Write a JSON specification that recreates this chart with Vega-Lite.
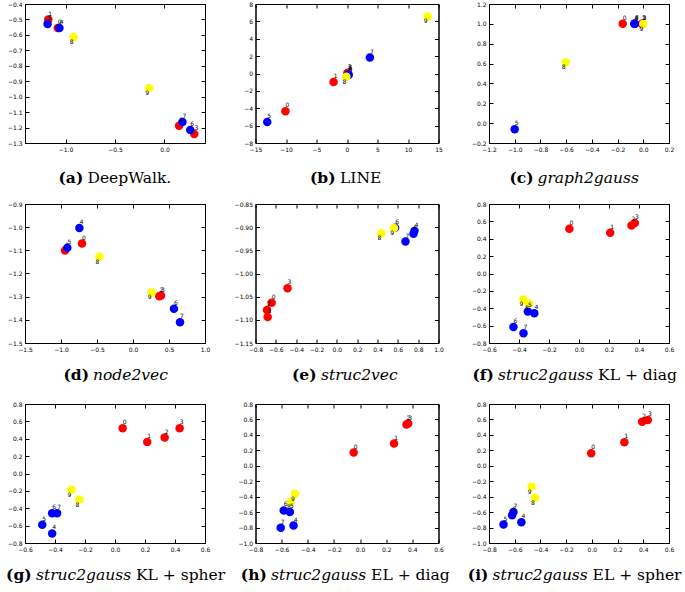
{
"$schema":"https://vega.github.io/schema/vega-lite/v6.json",
"background":"white",
"padding":{"left":5,"top":0,"right":0,"bottom":0},
"columns":3,
"bounds":"flush",
"spacing":{"row":61,"column":50.5},
"datasets":{"pts":[
{"p":"a","id":"0","c":"r","x":-1.079,"y":-0.555},{"p":"a","id":"1","c":"r","x":-1.175,"y":-0.501},{"p":"a","id":"2","c":"r","x":0.148,"y":-1.188},{"p":"a","id":"3","c":"r","x":0.302,"y":-1.242},{"p":"a","id":"4","c":"b","x":-1.062,"y":-0.555},{"p":"a","id":"5","c":"b","x":-1.182,"y":-0.53},{"p":"a","id":"6","c":"b","x":0.261,"y":-1.216},{"p":"a","id":"7","c":"b","x":0.182,"y":-1.164},{"p":"a","id":"8","c":"y","x":-0.918,"y":-0.614},{"p":"a","id":"9","c":"y","x":-0.155,"y":-0.944},
{"p":"b","id":"0","c":"r","x":-10.09,"y":-4.34},{"p":"b","id":"1","c":"r","x":-2.2,"y":-0.98},{"p":"b","id":"2","c":"r","x":0.17,"y":0.1},{"p":"b","id":"3","c":"r","x":0.05,"y":0.02},{"p":"b","id":"4","c":"b","x":0.28,"y":-0.17},{"p":"b","id":"5","c":"b","x":-13.07,"y":-5.57},{"p":"b","id":"6","c":"b","x":0.2,"y":-0.1},{"p":"b","id":"7","c":"b","x":3.75,"y":1.83},{"p":"b","id":"8","c":"y","x":-0.11,"y":-0.37},{"p":"b","id":"9","c":"y","x":13.24,"y":6.57},
{"p":"c","id":"0","c":"r","x":-0.16,"y":1.0},{"p":"c","id":"1","c":"r","x":-0.01,"y":1.0},{"p":"c","id":"2","c":"r","x":-0.008,"y":0.998},{"p":"c","id":"3","c":"r","x":-0.005,"y":1.0},{"p":"c","id":"4","c":"b","x":-0.07,"y":1.0},{"p":"c","id":"5","c":"b","x":-1.0,"y":-0.062},{"p":"c","id":"6","c":"b","x":-0.068,"y":1.0},{"p":"c","id":"7","c":"b","x":-0.065,"y":1.002},{"p":"c","id":"8","c":"y","x":-0.603,"y":0.613},{"p":"c","id":"9","c":"y","x":0.0,"y":1.0},
{"p":"d","id":"0","c":"r","x":-0.708,"y":-1.071},{"p":"d","id":"1","c":"r","x":-0.944,"y":-1.101},{"p":"d","id":"2","c":"r","x":0.366,"y":-1.298},{"p":"d","id":"3","c":"r","x":0.389,"y":-1.295},{"p":"d","id":"4","c":"b","x":-0.745,"y":-1.004},{"p":"d","id":"5","c":"b","x":-0.912,"y":-1.089},{"p":"d","id":"6","c":"b","x":0.569,"y":-1.352},{"p":"d","id":"7","c":"b","x":0.653,"y":-1.41},{"p":"d","id":"8","c":"y","x":-0.468,"y":-1.128},{"p":"d","id":"9","c":"y","x":0.259,"y":-1.282},
{"p":"e","id":"0","c":"r","x":-0.641,"y":-1.063},{"p":"e","id":"1","c":"r","x":-0.68,"y":-1.094},{"p":"e","id":"2","c":"r","x":-0.687,"y":-1.079},{"p":"e","id":"3","c":"r","x":-0.485,"y":-1.032},{"p":"e","id":"4","c":"b","x":0.764,"y":-0.908},{"p":"e","id":"5","c":"b","x":0.754,"y":-0.914},{"p":"e","id":"6","c":"b","x":0.573,"y":-0.901},{"p":"e","id":"7","c":"b","x":0.675,"y":-0.931},{"p":"e","id":"8","c":"y","x":0.438,"y":-0.913},{"p":"e","id":"9","c":"y","x":0.563,"y":-0.902},
{"p":"f","id":"0","c":"r","x":-0.064,"y":0.515},{"p":"f","id":"1","c":"r","x":0.208,"y":0.468},{"p":"f","id":"2","c":"r","x":0.35,"y":0.553},{"p":"f","id":"3","c":"r","x":0.372,"y":0.58},{"p":"f","id":"4","c":"b","x":-0.298,"y":-0.457},{"p":"f","id":"5","c":"b","x":-0.341,"y":-0.437},{"p":"f","id":"6","c":"b","x":-0.437,"y":-0.617},{"p":"f","id":"7","c":"b","x":-0.37,"y":-0.688},{"p":"f","id":"8","c":"y","x":-0.334,"y":-0.345},{"p":"f","id":"9","c":"y","x":-0.37,"y":-0.299},
{"p":"g","id":"0","c":"r","x":0.051,"y":0.522},{"p":"g","id":"1","c":"r","x":0.215,"y":0.364},{"p":"g","id":"2","c":"r","x":0.331,"y":0.414},{"p":"g","id":"3","c":"r","x":0.431,"y":0.522},{"p":"g","id":"4","c":"b","x":-0.419,"y":-0.69},{"p":"g","id":"5","c":"b","x":-0.485,"y":-0.589},{"p":"g","id":"6","c":"b","x":-0.419,"y":-0.458},{"p":"g","id":"7","c":"b","x":-0.386,"y":-0.458},{"p":"g","id":"8","c":"y","x":-0.238,"y":-0.3},{"p":"g","id":"9","c":"y","x":-0.291,"y":-0.187},
{"p":"h","id":"0","c":"r","x":-0.049,"y":0.171},{"p":"h","id":"1","c":"r","x":0.26,"y":0.288},{"p":"h","id":"2","c":"r","x":0.355,"y":0.535},{"p":"h","id":"3","c":"r","x":0.368,"y":0.547},{"p":"h","id":"4","c":"b","x":-0.509,"y":-0.774},{"p":"h","id":"5","c":"b","x":-0.537,"y":-0.6},{"p":"h","id":"6","c":"b","x":-0.584,"y":-0.579},{"p":"h","id":"7","c":"b","x":-0.607,"y":-0.804},{"p":"h","id":"8","c":"y","x":-0.53,"y":-0.47},{"p":"h","id":"9","c":"y","x":-0.499,"y":-0.362},
{"p":"i","id":"0","c":"r","x":-0.005,"y":0.163},{"p":"i","id":"1","c":"r","x":0.253,"y":0.306},{"p":"i","id":"2","c":"r","x":0.391,"y":0.57},{"p":"i","id":"3","c":"r","x":0.435,"y":0.592},{"p":"i","id":"4","c":"b","x":-0.548,"y":-0.731},{"p":"i","id":"5","c":"b","x":-0.687,"y":-0.761},{"p":"i","id":"6","c":"b","x":-0.62,"y":-0.64},{"p":"i","id":"7","c":"b","x":-0.61,"y":-0.6},{"p":"i","id":"8","c":"y","x":-0.443,"y":-0.414},{"p":"i","id":"9","c":"y","x":-0.469,"y":-0.271}
]},
"concat":[
{"width":180,"height":139,"data":{"name":"pts"},"transform":[{"filter":"datum.p=='a'"}],
 "layer":[
  {"mark":{"type":"circle","size":72,"opacity":1},"encoding":{
   "x":{"field":"x","type":"quantitative","scale":{"domain":[-1.41,0.41],"nice":false,"zero":false},"axis":{"orient":"bottom","values":[-1,-0.5,0],"format":".1f","title":"(a)","titleFontWeight":"bold","titleX":33,"titleY":39}},
   "y":{"field":"y","type":"quantitative","scale":{"domain":[-1.3,-0.4],"nice":false,"zero":false},"axis":{"orient":"left","values":[-1.3,-1.2,-1.1,-1.0,-0.9,-0.8,-0.7,-0.6,-0.5,-0.4],"format":".1f","title":null}},
   "color":{"field":"c","type":"nominal","scale":{"domain":["r","b","y"],"range":["#ff0000","#0000ff","#ffff00"]},"legend":null}}},
  {"transform":[{"filter":"datum.c!='y'"}],"mark":{"type":"text","dx":2,"dy":-6,"fill":"#000000"},"encoding":{
   "x":{"field":"x","type":"quantitative","axis":{"orient":"top","values":[-1,-0.5,0],"labels":false,"title":null}},
   "y":{"field":"y","type":"quantitative","axis":{"orient":"right","values":[-1.3,-1.2,-1.1,-1.0,-0.9,-0.8,-0.7,-0.6,-0.5,-0.4],"labels":false,"title":"DeepWalk.","titleAngle":0,"titleX":-118,"titleY":178}},
   "text":{"field":"id"}}},
  {"transform":[{"filter":"datum.c=='y'"}],"mark":{"type":"text","dx":-2,"dy":5,"fill":"#000000"},"encoding":{
   "x":{"field":"x","type":"quantitative","axis":null},"y":{"field":"y","type":"quantitative","axis":null},"text":{"field":"id"}}}
 ],
 "resolve":{"axis":{"x":"independent","y":"independent"}}},
{"width":183,"height":139,"data":{"name":"pts"},"transform":[{"filter":"datum.p=='b'"}],
 "layer":[
  {"mark":{"type":"circle","size":72,"opacity":1},"encoding":{
   "x":{"field":"x","type":"quantitative","scale":{"domain":[-15,15],"nice":false,"zero":false},"axis":{"orient":"bottom","values":[-15,-10,-5,0,5,10,15],"format":"d","title":"(b)","titleFontWeight":"bold","titleX":54,"titleY":39}},
   "y":{"field":"y","type":"quantitative","scale":{"domain":[-8,8],"nice":false,"zero":false},"axis":{"orient":"left","values":[-8,-6,-4,-2,0,2,4,6,8],"format":"d","title":null}},
   "color":{"field":"c","type":"nominal","scale":{"domain":["r","b","y"],"range":["#ff0000","#0000ff","#ffff00"]},"legend":null}}},
  {"transform":[{"filter":"datum.c!='y'"}],"mark":{"type":"text","dx":2,"dy":-6,"fill":"#000000"},"encoding":{
   "x":{"field":"x","type":"quantitative","axis":{"orient":"top","values":[-15,-10,-5,0,5,10,15],"labels":false,"title":null}},
   "y":{"field":"y","type":"quantitative","axis":{"orient":"right","values":[-8,-6,-4,-2,0,2,4,6,8],"labels":false,"title":"LINE","titleAngle":0,"titleX":-99,"titleY":178}},
   "text":{"field":"id"}}},
  {"transform":[{"filter":"datum.c=='y'"}],"mark":{"type":"text","dx":-2,"dy":5,"fill":"#000000"},"encoding":{
   "x":{"field":"x","type":"quantitative","axis":null},"y":{"field":"y","type":"quantitative","axis":null},"text":{"field":"id"}}}
 ],
 "resolve":{"axis":{"x":"independent","y":"independent"}}},
{"width":180,"height":139,"data":{"name":"pts"},"transform":[{"filter":"datum.p=='c'"}],
 "layer":[
  {"mark":{"type":"circle","size":72,"opacity":1},"encoding":{
   "x":{"field":"x","type":"quantitative","scale":{"domain":[-1.2,0.2],"nice":false,"zero":false},"axis":{"orient":"bottom","values":[-1.2,-1.0,-0.8,-0.6,-0.4,-0.2,0,0.2],"format":".1f","title":"(c)","titleFontWeight":"bold","titleX":20,"titleY":39}},
   "y":{"field":"y","type":"quantitative","scale":{"domain":[-0.2,1.2],"nice":false,"zero":false},"axis":{"orient":"left","values":[-0.2,0,0.2,0.4,0.6,0.8,1.0,1.2],"format":".1f","title":null}},
   "color":{"field":"c","type":"nominal","scale":{"domain":["r","b","y"],"range":["#ff0000","#0000ff","#ffff00"]},"legend":null}}},
  {"transform":[{"filter":"datum.c!='y'"}],"mark":{"type":"text","dx":2,"dy":-6,"fill":"#000000"},"encoding":{
   "x":{"field":"x","type":"quantitative","axis":{"orient":"top","values":[-1.2,-1.0,-0.8,-0.6,-0.4,-0.2,0,0.2],"labels":false,"title":"graph2gauss","titleFontStyle":"italic","titleX":48,"titleY":178}},
   "y":{"field":"y","type":"quantitative","axis":{"orient":"right","values":[-0.2,0,0.2,0.4,0.6,0.8,1.0,1.2],"labels":false,"title":null}},
   "text":{"field":"id"}}},
  {"transform":[{"filter":"datum.c=='y'"}],"mark":{"type":"text","dx":-2,"dy":5,"fill":"#000000"},"encoding":{
   "x":{"field":"x","type":"quantitative","axis":null},"y":{"field":"y","type":"quantitative","axis":null},"text":{"field":"id"}}}
 ],
 "resolve":{"axis":{"x":"independent","y":"independent"}}},
{"width":180,"height":139,"data":{"name":"pts"},"transform":[{"filter":"datum.p=='d'"}],
 "layer":[
  {"mark":{"type":"circle","size":72,"opacity":1},"encoding":{
   "x":{"field":"x","type":"quantitative","scale":{"domain":[-1.5,1.0],"nice":false,"zero":false},"axis":{"orient":"bottom","values":[-1.5,-1.0,-0.5,0,0.5,1.0],"format":".1f","title":"(d)","titleFontWeight":"bold","titleX":38,"titleY":36}},
   "y":{"field":"y","type":"quantitative","scale":{"domain":[-1.5,-0.9],"nice":false,"zero":false},"axis":{"orient":"left","values":[-1.5,-1.4,-1.3,-1.2,-1.1,-1.0,-0.9],"format":".1f","title":null}},
   "color":{"field":"c","type":"nominal","scale":{"domain":["r","b","y"],"range":["#ff0000","#0000ff","#ffff00"]},"legend":null}}},
  {"transform":[{"filter":"datum.c!='y'"}],"mark":{"type":"text","dx":2,"dy":-6,"fill":"#000000"},"encoding":{
   "x":{"field":"x","type":"quantitative","axis":{"orient":"top","values":[-1.5,-1.0,-0.5,0,0.5,1.0],"labels":false,"title":"node2vec","titleFontStyle":"italic","titleX":67.5,"titleY":175}},
   "y":{"field":"y","type":"quantitative","axis":{"orient":"right","values":[-1.5,-1.4,-1.3,-1.2,-1.1,-1.0,-0.9],"labels":false,"title":null}},
   "text":{"field":"id"}}},
  {"transform":[{"filter":"datum.c=='y'"}],"mark":{"type":"text","dx":-2,"dy":5,"fill":"#000000"},"encoding":{
   "x":{"field":"x","type":"quantitative","axis":null},"y":{"field":"y","type":"quantitative","axis":null},"text":{"field":"id"}}}
 ],
 "resolve":{"axis":{"x":"independent","y":"independent"}}},
{"width":183,"height":139,"data":{"name":"pts"},"transform":[{"filter":"datum.p=='e'"}],
 "layer":[
  {"mark":{"type":"circle","size":72,"opacity":1},"encoding":{
   "x":{"field":"x","type":"quantitative","scale":{"domain":[-0.8,1.0],"nice":false,"zero":false},"axis":{"orient":"bottom","values":[-0.8,-0.6,-0.4,-0.2,0,0.2,0.4,0.6,0.8,1.0],"format":".1f","title":"(e)","titleFontWeight":"bold","titleX":36,"titleY":36}},
   "y":{"field":"y","type":"quantitative","scale":{"domain":[-1.15,-0.85],"nice":false,"zero":false},"axis":{"orient":"left","values":[-1.15,-1.1,-1.05,-1.0,-0.95,-0.9,-0.85],"format":".2f","title":null}},
   "color":{"field":"c","type":"nominal","scale":{"domain":["r","b","y"],"range":["#ff0000","#0000ff","#ffff00"]},"legend":null}}},
  {"transform":[{"filter":"datum.c!='y'"}],"mark":{"type":"text","dx":2,"dy":-6,"fill":"#000000"},"encoding":{
   "x":{"field":"x","type":"quantitative","axis":{"orient":"top","values":[-0.8,-0.6,-0.4,-0.2,0,0.2,0.4,0.6,0.8,1.0],"labels":false,"title":"struc2vec","titleFontStyle":"italic","titleX":65,"titleY":175}},
   "y":{"field":"y","type":"quantitative","axis":{"orient":"right","values":[-1.15,-1.1,-1.05,-1.0,-0.95,-0.9,-0.85],"labels":false,"title":null}},
   "text":{"field":"id"}}},
  {"transform":[{"filter":"datum.c=='y'"}],"mark":{"type":"text","dx":-2,"dy":5,"fill":"#000000"},"encoding":{
   "x":{"field":"x","type":"quantitative","axis":null},"y":{"field":"y","type":"quantitative","axis":null},"text":{"field":"id"}}}
 ],
 "resolve":{"axis":{"x":"independent","y":"independent"}}},
{"width":180,"height":139,"data":{"name":"pts"},"transform":[{"filter":"datum.p=='f'"}],
 "layer":[
  {"mark":{"type":"circle","size":72,"opacity":1},"encoding":{
   "x":{"field":"x","type":"quantitative","scale":{"domain":[-0.6,0.6],"nice":false,"zero":false},"axis":{"orient":"bottom","values":[-0.6,-0.4,-0.2,0,0.2,0.4,0.6],"format":".1f","title":"(f)","titleFontWeight":"bold","titleX":-17,"titleY":36}},
   "y":{"field":"y","type":"quantitative","scale":{"domain":[-0.8,0.8],"nice":false,"zero":false},"axis":{"orient":"left","values":[-0.8,-0.6,-0.4,-0.2,0,0.2,0.4,0.6,0.8],"format":".1f","title":null}},
   "color":{"field":"c","type":"nominal","scale":{"domain":["r","b","y"],"range":["#ff0000","#0000ff","#ffff00"]},"legend":null}}},
  {"transform":[{"filter":"datum.c!='y'"}],"mark":{"type":"text","dx":2,"dy":-6,"fill":"#000000"},"encoding":{
   "x":{"field":"x","type":"quantitative","axis":{"orient":"top","values":[-0.6,-0.4,-0.2,0,0.2,0.4,0.6],"labels":false,"title":"struc2gauss","titleFontStyle":"italic","titleX":8.6,"titleY":175}},
   "y":{"field":"y","type":"quantitative","axis":{"orient":"right","values":[-0.8,-0.6,-0.4,-0.2,0,0.2,0.4,0.6,0.8],"labels":false,"title":"KL + diag","titleAngle":0,"titleX":-71.4,"titleY":175}},
   "text":{"field":"id"}}},
  {"transform":[{"filter":"datum.c=='y'"}],"mark":{"type":"text","dx":-2,"dy":5,"fill":"#000000"},"encoding":{
   "x":{"field":"x","type":"quantitative","axis":null},"y":{"field":"y","type":"quantitative","axis":null},"text":{"field":"id"}}}
 ],
 "resolve":{"axis":{"x":"independent","y":"independent"}}},
{"width":180,"height":139,"data":{"name":"pts"},"transform":[{"filter":"datum.p=='g'"}],
 "layer":[
  {"mark":{"type":"circle","size":72,"opacity":1},"encoding":{
   "x":{"field":"x","type":"quantitative","scale":{"domain":[-0.6,0.6],"nice":false,"zero":false},"axis":{"orient":"bottom","values":[-0.6,-0.4,-0.2,0,0.2,0.4,0.6],"format":".1f","title":"(g)","titleFontWeight":"bold","titleX":-19.4,"titleY":36}},
   "y":{"field":"y","type":"quantitative","scale":{"domain":[-0.8,0.8],"nice":false,"zero":false},"axis":{"orient":"left","values":[-0.8,-0.6,-0.4,-0.2,0,0.2,0.4,0.6,0.8],"format":".1f","title":null}},
   "color":{"field":"c","type":"nominal","scale":{"domain":["r","b","y"],"range":["#ff0000","#0000ff","#ffff00"]},"legend":null}}},
  {"transform":[{"filter":"datum.c!='y'"}],"mark":{"type":"text","dx":2,"dy":-6,"fill":"#000000"},"encoding":{
   "x":{"field":"x","type":"quantitative","axis":{"orient":"top","values":[-0.6,-0.4,-0.2,0,0.2,0.4,0.6],"labels":false,"title":"struc2gauss","titleFontStyle":"italic","titleX":10.5,"titleY":175}},
   "y":{"field":"y","type":"quantitative","axis":{"orient":"right","values":[-0.8,-0.6,-0.4,-0.2,0,0.2,0.4,0.6,0.8],"labels":false,"title":"KL + spher","titleAngle":0,"titleX":-69.5,"titleY":175}},
   "text":{"field":"id"}}},
  {"transform":[{"filter":"datum.c=='y'"}],"mark":{"type":"text","dx":-2,"dy":5,"fill":"#000000"},"encoding":{
   "x":{"field":"x","type":"quantitative","axis":null},"y":{"field":"y","type":"quantitative","axis":null},"text":{"field":"id"}}}
 ],
 "resolve":{"axis":{"x":"independent","y":"independent"}}},
{"width":183,"height":139,"data":{"name":"pts"},"transform":[{"filter":"datum.p=='h'"}],
 "layer":[
  {"mark":{"type":"circle","size":72,"opacity":1},"encoding":{
   "x":{"field":"x","type":"quantitative","scale":{"domain":[-0.8,0.6],"nice":false,"zero":false},"axis":{"orient":"bottom","values":[-0.8,-0.6,-0.4,-0.2,0,0.2,0.4,0.6],"format":".1f","title":"(h)","titleFontWeight":"bold","titleX":-15.2,"titleY":36}},
   "y":{"field":"y","type":"quantitative","scale":{"domain":[-1.0,0.8],"nice":false,"zero":false},"axis":{"orient":"left","values":[-1.0,-0.8,-0.6,-0.4,-0.2,0,0.2,0.4,0.6,0.8],"format":".1f","title":null}},
   "color":{"field":"c","type":"nominal","scale":{"domain":["r","b","y"],"range":["#ff0000","#0000ff","#ffff00"]},"legend":null}}},
  {"transform":[{"filter":"datum.c!='y'"}],"mark":{"type":"text","dx":2,"dy":-6,"fill":"#000000"},"encoding":{
   "x":{"field":"x","type":"quantitative","axis":{"orient":"top","values":[-0.8,-0.6,-0.4,-0.2,0,0.2,0.4,0.6],"labels":false,"title":"struc2gauss","titleFontStyle":"italic","titleX":15.1,"titleY":175}},
   "y":{"field":"y","type":"quantitative","axis":{"orient":"right","values":[-1.0,-0.8,-0.6,-0.4,-0.2,0,0.2,0.4,0.6,0.8],"labels":false,"title":"EL + diag","titleAngle":0,"titleX":-67.9,"titleY":175}},
   "text":{"field":"id"}}},
  {"transform":[{"filter":"datum.c=='y'"}],"mark":{"type":"text","dx":-2,"dy":5,"fill":"#000000"},"encoding":{
   "x":{"field":"x","type":"quantitative","axis":null},"y":{"field":"y","type":"quantitative","axis":null},"text":{"field":"id"}}}
 ],
 "resolve":{"axis":{"x":"independent","y":"independent"}}},
{"width":180,"height":139,"data":{"name":"pts"},"transform":[{"filter":"datum.p=='i'"}],
 "layer":[
  {"mark":{"type":"circle","size":72,"opacity":1},"encoding":{
   "x":{"field":"x","type":"quantitative","scale":{"domain":[-0.8,0.6],"nice":false,"zero":false},"axis":{"orient":"bottom","values":[-0.8,-0.6,-0.4,-0.2,0,0.2,0.4,0.6],"format":".1f","title":"(i)","titleFontWeight":"bold","titleX":-21.7,"titleY":36}},
   "y":{"field":"y","type":"quantitative","scale":{"domain":[-1.0,0.8],"nice":false,"zero":false},"axis":{"orient":"left","values":[-1.0,-0.8,-0.6,-0.4,-0.2,0,0.2,0.4,0.6,0.8],"format":".1f","title":null}},
   "color":{"field":"c","type":"nominal","scale":{"domain":["r","b","y"],"range":["#ff0000","#0000ff","#ffff00"]},"legend":null}}},
  {"transform":[{"filter":"datum.c!='y'"}],"mark":{"type":"text","dx":2,"dy":-6,"fill":"#000000"},"encoding":{
   "x":{"field":"x","type":"quantitative","axis":{"orient":"top","values":[-0.8,-0.6,-0.4,-0.2,0,0.2,0.4,0.6],"labels":false,"title":"struc2gauss","titleFontStyle":"italic","titleX":3.1,"titleY":175}},
   "y":{"field":"y","type":"quantitative","axis":{"orient":"right","values":[-1.0,-0.8,-0.6,-0.4,-0.2,0,0.2,0.4,0.6,0.8],"labels":false,"title":"EL + spher","titleAngle":0,"titleX":-76.9,"titleY":175}},
   "text":{"field":"id"}}},
  {"transform":[{"filter":"datum.c=='y'"}],"mark":{"type":"text","dx":-2,"dy":5,"fill":"#000000"},"encoding":{
   "x":{"field":"x","type":"quantitative","axis":null},"y":{"field":"y","type":"quantitative","axis":null},"text":{"field":"id"}}}
 ],
 "resolve":{"axis":{"x":"independent","y":"independent"}}}
],
"config":{
 "view":{"stroke":"#000000","strokeWidth":1},
 "text":{"font":"DejaVu Sans","fontSize":6,"color":"#000000","fill":"#000000"},
 "axis":{"grid":false,"tickSize":-4,"tickColor":"#000000","tickWidth":1,"domainColor":"#000000","domainWidth":1,"labelFont":"DejaVu Sans","labelFontSize":6,"labelColor":"#000000","labelPadding":7,"labelOverlap":false,"labelFlush":false,"titleFont":"DejaVu Serif","titleFontSize":15.5,"titleColor":"#000000","titleFontWeight":"normal","titleAlign":"left","titleBaseline":"alphabetic","titleAnchor":null}
}
}
